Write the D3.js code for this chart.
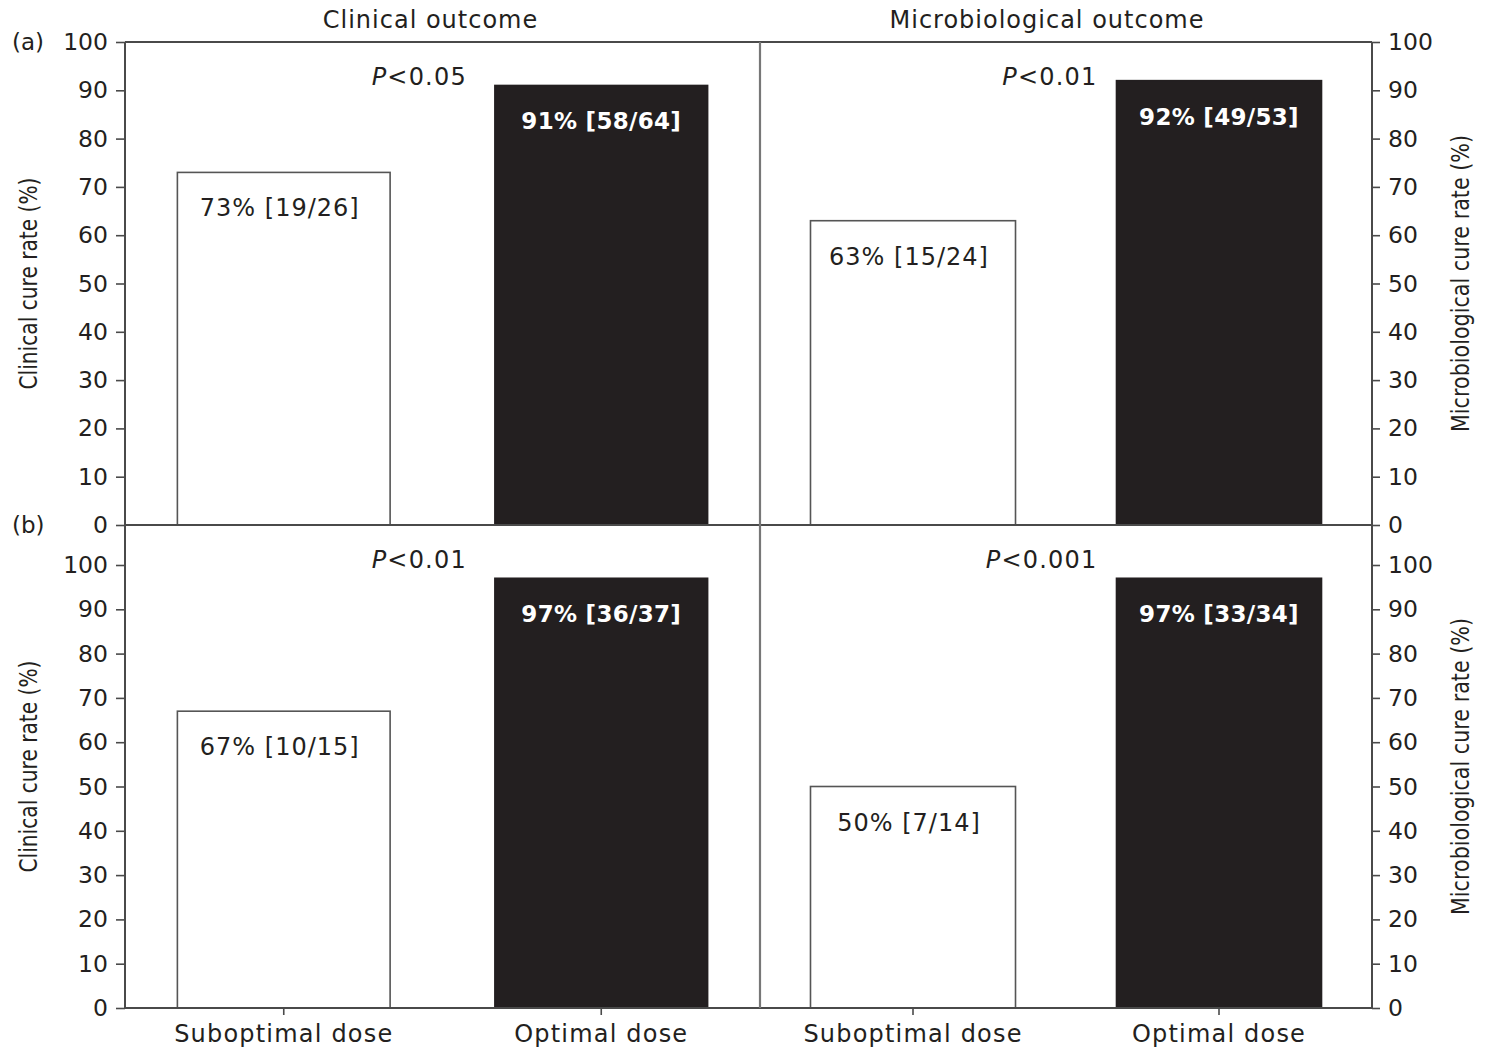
<!DOCTYPE html>
<html>
<head>
<meta charset="utf-8">
<script src="https://cdn.jsdelivr.net/npm/d3@7"></script>
<style>
  html, body { margin: 0; padding: 0; background: #fff; }
  svg { display: block; }
  text { font-family: "DejaVu Sans", sans-serif; fill: #231f20; }
</style>
</head>
<body>
<script>
// Cure rates by dosing group, two outcome measures, two cohorts (a) and (b)
const categories = ["Suboptimal dose", "Optimal dose"];
const outcomes = ["Clinical outcome", "Microbiological outcome"];
const axisTitles = ["Clinical cure rate (%)", "Microbiological cure rate (%)"];
const rowTags = ["(a)", "(b)"];
const yTicks = [0, 10, 20, 30, 40, 50, 60, 70, 80, 90, 100];

// rates[row][outcome] = [suboptimal, optimal]
const rates = [
  [[73, 91], [63, 92]],
  [[67, 97], [50, 97]]
];
const counts = [
  [["19/26", "58/64"], ["15/24", "49/53"]],
  [["10/15", "36/37"], ["7/14", "33/34"]]
];
const pValues = [
  ["0.05", "0.01"],
  ["0.01", "0.001"]
];

const W = 1489, H = 1051;
const ink = "#231f20", axisInk = "#4a4a4a";

const colX = [[125, 760], [760, 1372]];
const rows = [
  { frameTop: 42, yTop: 42, yBottom: 525 },
  { frameTop: 525, yTop: 565, yBottom: 1008 }
];

const svg = d3.select("body").append("svg").attr("width", W).attr("height", H);

// outcome titles
const titleShift = [-12, -19];
outcomes.forEach((t, c) => {
  svg.append("text")
    .attr("x", (colX[c][0] + colX[c][1]) / 2 + titleShift[c])
    .attr("y", 28)
    .attr("text-anchor", "middle")
    .attr("font-size", 24)
    .attr("letter-spacing", 1)
    .text(t);
});

const xScales = colX.map(([a, b]) =>
  d3.scaleBand().domain(categories).range([a, b]).paddingInner(0.33).paddingOuter(0.165)
);

rows.forEach((row, r) => {
  const y = d3.scaleLinear().domain([0, 100]).range([row.yBottom, row.yTop]);

  // bars and labels
  [0, 1].forEach(c => {
    const x = xScales[c];
    const g = svg.append("g");
    const items = categories.map((cat, i) => ({ cat, v: rates[r][c][i], n: counts[r][c][i], i }));
    g.selectAll("rect")
      .data(items)
      .join("rect")
      .attr("x", d => x(d.cat))
      .attr("y", d => y(d.v))
      .attr("width", x.bandwidth())
      .attr("height", d => y(0) - y(d.v))
      .attr("fill", d => d.i === 1 ? ink : "#fff")
      .attr("stroke", d => d.i === 1 ? ink : "#555")
      .attr("stroke-width", 1.6);

    g.selectAll("text.val")
      .data(items)
      .join("text")
      .attr("class", "val")
      .attr("x", d => x(d.cat) + x.bandwidth() / 2 - (d.i === 0 ? 4 : 0))
      .attr("y", d => y(d.v) + 44)
      .attr("text-anchor", "middle")
      .attr("font-size", d => d.i === 1 ? 23 : 24)
      .attr("letter-spacing", d => d.i === 1 ? 0.3 : 1)
      .attr("font-weight", d => d.i === 1 ? "bold" : "normal")
      .style("fill", d => d.i === 1 ? "#fff" : ink)
      .text(d => `${d.v}% [${d.n}]`);

    // significance label
    const p = svg.append("text")
      .attr("x", x("Optimal dose") - (c === 0 ? 28 : 19))
      .attr("y", row.frameTop + 43)
      .attr("text-anchor", "end")
      .attr("font-size", 24)
      .attr("letter-spacing", 1.2);
    p.append("tspan").attr("font-style", "italic").text("P");
    p.append("tspan").text("<" + pValues[r][c]);
  });

  // left axis
  const left = svg.append("g")
    .attr("transform", `translate(${colX[0][0]},0)`)
    .call(d3.axisLeft(y).tickValues(yTicks).tickSize(9).tickPadding(8));
  // right axis
  const right = svg.append("g")
    .attr("transform", `translate(${colX[1][1]},0)`)
    .call(d3.axisRight(y).tickValues(yTicks).tickSize(8).tickPadding(8));
  [left, right].forEach(a => {
    a.select(".domain").remove();
    a.selectAll("line").attr("stroke", axisInk).attr("stroke-width", 1.6);
    a.selectAll("text").attr("font-size", 23.5).attr("font-family", "DejaVu Sans, sans-serif").style("fill", ink);
  });

  // frame verticals
  [colX[0][0], colX[1][1]].forEach(xx => {
    svg.append("line")
      .attr("x1", xx).attr("x2", xx)
      .attr("y1", row.frameTop).attr("y2", row.yBottom)
      .attr("stroke", axisInk).attr("stroke-width", 2);
  });

  // baseline
  svg.append("line")
    .attr("x1", colX[0][0]).attr("x2", colX[1][1])
    .attr("y1", row.yBottom).attr("y2", row.yBottom)
    .attr("stroke", axisInk).attr("stroke-width", 1.8);

  // row tag
  svg.append("text")
    .attr("x", 12).attr("y", row.frameTop + 8)
    .attr("font-size", 23)
    .text(rowTags[r]);

  // axis titles
  const midY = (row.frameTop + row.yBottom) / 2;
  svg.append("text")
    .attr("transform", `translate(37,${midY}) rotate(-90)`)
    .attr("text-anchor", "middle")
    .attr("font-size", 24)
    .attr("textLength", 212)
    .attr("lengthAdjust", "spacingAndGlyphs")
    .text(axisTitles[0]);
  svg.append("text")
    .attr("transform", `translate(1469,${midY}) rotate(-90)`)
    .attr("text-anchor", "middle")
    .attr("font-size", 24)
    .attr("textLength", 297)
    .attr("lengthAdjust", "spacingAndGlyphs")
    .text(axisTitles[1]);
});

// top border
svg.append("line")
  .attr("x1", colX[0][0]).attr("x2", colX[1][1])
  .attr("y1", rows[0].frameTop).attr("y2", rows[0].frameTop)
  .attr("stroke", axisInk).attr("stroke-width", 1.8);

// divider between outcomes
svg.append("line")
  .attr("x1", colX[0][1]).attr("x2", colX[0][1])
  .attr("y1", rows[0].frameTop).attr("y2", rows[1].yBottom)
  .attr("stroke", "#777").attr("stroke-width", 2.2);

// category axes under the bottom row
xScales.forEach(x => {
  const a = svg.append("g")
    .attr("transform", `translate(0,${rows[1].yBottom})`)
    .call(d3.axisBottom(x).tickSize(7).tickPadding(10));
  a.select(".domain").remove();
  a.selectAll("line").attr("stroke", axisInk).attr("stroke-width", 1.6);
  a.selectAll("text").attr("font-size", 24).attr("letter-spacing", 1.2)
    .attr("font-family", "DejaVu Sans, sans-serif").style("fill", ink);
});
</script>
</body>
</html>
